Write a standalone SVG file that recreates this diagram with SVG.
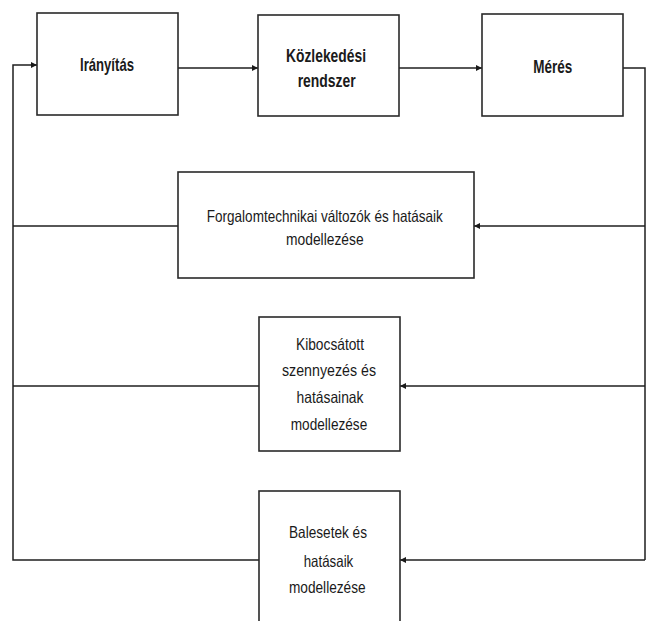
<svg xmlns="http://www.w3.org/2000/svg" width="648" height="621" viewBox="0 0 648 621">
<defs>
<marker id="arr" viewBox="0 0 8 8" refX="8" refY="4" markerWidth="6" markerHeight="6" markerUnits="userSpaceOnUse" orient="auto">
<path d="M0,0 L8,4 L0,8 z" fill="#1a1a1a"/>
</marker>
<style>
.box{fill:#ffffff;stroke:#2a2a2a;stroke-width:1.6}
.ln{fill:none;stroke:#1f1f1f;stroke-width:1.5}
.b{font-family:"Liberation Sans Narrow","Liberation Sans",Arial,sans-serif;font-weight:bold;font-size:18.5px;fill:#1a1a1a;text-anchor:middle}
.r{font-family:"Liberation Sans Narrow","Liberation Sans",Arial,sans-serif;font-size:16.5px;fill:#1a1a1a;text-anchor:middle}
</style>
</defs>
<rect width="648" height="621" fill="#ffffff"/>
<g id="connectors">
<path class="ln" d="M178,68 H258" marker-end="url(#arr)"/>
<path class="ln" d="M399,68 H482" marker-end="url(#arr)"/>
<path class="ln" d="M623,68 H645 V560"/>
<path class="ln" d="M645,226 H474" marker-end="url(#arr)"/>
<path class="ln" d="M645,386 H400" marker-end="url(#arr)"/>
<path class="ln" d="M645,560 H400" marker-end="url(#arr)"/>
<path class="ln" d="M178,226 H13"/>
<path class="ln" d="M259,386 H13"/>
<path class="ln" d="M259,560 H13 V65 H37" marker-end="url(#arr)"/>
</g>
<g id="iranyitas">
<rect class="box" x="37" y="13" width="141" height="102"/>
<text class="b" x="107" y="71" textLength="54" lengthAdjust="spacingAndGlyphs">Irányítás</text>
</g>
<g id="kozlekedesi">
<rect class="box" x="258" y="15" width="141" height="101"/>
<text class="b" x="326" y="62" textLength="80" lengthAdjust="spacingAndGlyphs">Közlekedési</text>
<text class="b" x="326.7" y="87" textLength="58" lengthAdjust="spacingAndGlyphs">rendszer</text>
</g>
<g id="meres">
<rect class="box" x="482" y="14" width="141" height="102"/>
<text class="b" x="552.8" y="72.5" textLength="39" lengthAdjust="spacingAndGlyphs">Mérés</text>
</g>
<g id="forgalom">
<rect class="box" x="178" y="172" width="296" height="106"/>
<text class="r" x="324.8" y="221.5" textLength="236" lengthAdjust="spacingAndGlyphs">Forgalomtechnikai változók és hatásaik</text>
<text class="r" x="324.8" y="245" textLength="77.6" lengthAdjust="spacingAndGlyphs">modellezése</text>
</g>
<g id="kibocsatott">
<rect class="box" x="259" y="317" width="141" height="134"/>
<text class="r" x="330" y="350" textLength="68" lengthAdjust="spacingAndGlyphs">Kibocsátott</text>
<text class="r" x="329" y="376" textLength="94" lengthAdjust="spacingAndGlyphs">szennyezés  és</text>
<text class="r" x="330" y="402.5" textLength="67" lengthAdjust="spacingAndGlyphs">hatásainak</text>
<text class="r" x="329" y="430" textLength="76.5" lengthAdjust="spacingAndGlyphs">modellezése</text>
</g>
<g id="balesetek">
<rect class="box" x="259" y="491" width="141" height="160"/>
<text class="r" x="328" y="538.3" textLength="78" lengthAdjust="spacingAndGlyphs">Balesetek és</text>
<text class="r" x="328.5" y="566.5" textLength="49.6" lengthAdjust="spacingAndGlyphs">hatásaik</text>
<text class="r" x="327.3" y="593.3" textLength="76.7" lengthAdjust="spacingAndGlyphs">modellezése</text>
</g>
</svg>
